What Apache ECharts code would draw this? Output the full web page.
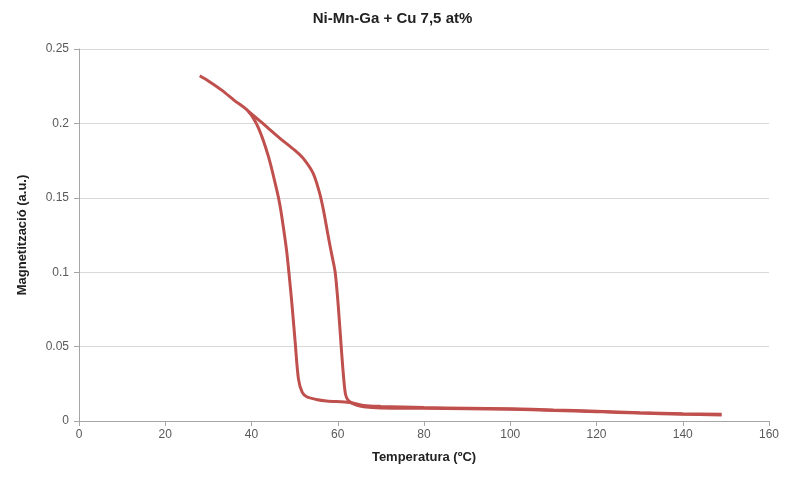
<!DOCTYPE html>
<html><head><meta charset="utf-8">
<script src="https://cdn.jsdelivr.net/npm/echarts@6/dist/echarts.min.js"></script>
<style>html,body{margin:0;padding:0;background:#fff}#c{width:785px;height:484px}</style>
</head><body><div id="c"></div>
<script>
const title = "Ni-Mn-Ga + Cu 7,5 at%";
const xName = "Temperatura (ºC)";
const yName = "Magnetització (a.u.)";
const xTicks = [0, 20, 40, 60, 80, 100, 120, 140, 160];
const yTicks = [0, 0.05, 0.1, 0.15, 0.2, 0.25];

// Branch with the lower transition (~49 ºC)
const tempA = [28, 30, 33, 36, 39.3, 41.6, 43.9, 45.8, 46.6, 47.4, 48.2, 49.3, 50.1, 50.9, 51.8, 52.8, 55, 57.4, 62.8, 66, 70, 80, 90, 100, 110, 120, 130, 140, 149];
const magA  = [0.232, 0.2285, 0.2225, 0.2155, 0.208, 0.197, 0.178, 0.156, 0.145, 0.130, 0.113, 0.081, 0.054, 0.028, 0.019, 0.0163, 0.0145, 0.0135, 0.0125, 0.0105, 0.0098, 0.009, 0.0086, 0.0082, 0.0074, 0.0066, 0.0056, 0.0049, 0.0045];
// Branch with the higher transition (~60 ºC)
const tempB = [39.3, 42, 46.6, 50, 52, 54.3, 55.9, 56.8, 57.8, 58.6, 59.4, 60.1, 60.9, 61.4, 61.8, 62.4, 64, 66, 70, 80, 90, 100, 110, 120, 130, 140, 149];
const magB  = [0.208, 0.2015, 0.190, 0.182, 0.1765, 0.1664, 0.152, 0.140, 0.124, 0.112, 0.100, 0.078, 0.046, 0.028, 0.018, 0.014, 0.011, 0.0096, 0.0088, 0.0085, 0.0083, 0.0079, 0.0071, 0.0063, 0.0053, 0.0046, 0.0041];

const chart = echarts.init(document.getElementById('c'), null, {renderer: 'canvas'});
const font = "'Liberation Sans', 'Open Sans', sans-serif";
const lineColor = '#c0504d';
chart.setOption({
  animation: false,
  backgroundColor: '#fff',
  title: {text: title, left: 'center', top: 6, textStyle: {fontFamily: font, fontSize: 15, fontWeight: 'bold', color: '#222'}},
  grid: {left: 79, right: 16, top: 49, bottom: 63},
  xAxis: {
    type: 'value', min: xTicks[0], max: xTicks[xTicks.length-1], interval: 20,
    name: xName, nameLocation: 'middle', nameGap: 30,
    nameTextStyle: {fontFamily: font, fontSize: 13, fontWeight: 'bold', color: '#222'},
    axisLine: {show: true, lineStyle: {color: '#a6a6a6'}},
    axisTick: {show: true, length: 5, lineStyle: {color: '#a6a6a6'}},
    axisLabel: {fontFamily: font, fontSize: 12, color: '#595959', margin: 8},
    splitLine: {show: false}
  },
  yAxis: {
    type: 'value', min: yTicks[0], max: yTicks[yTicks.length-1], interval: 0.05,
    name: yName, nameLocation: 'middle', nameGap: 50,
    nameTextStyle: {fontFamily: font, fontSize: 13, fontWeight: 'bold', color: '#222'},
    axisLine: {show: true, lineStyle: {color: '#a6a6a6'}},
    axisTick: {show: true, length: 5, lineStyle: {color: '#a6a6a6'}},
    axisLabel: {fontFamily: font, fontSize: 12, color: '#595959', margin: 10},
    splitLine: {show: true, lineStyle: {color: '#d9d9d9', width: 1}}
  },
  series: [
    {type: 'line', data: tempA.map((t, i) => [t, magA[i]]), showSymbol: false, smooth: 0.3,
     lineStyle: {color: lineColor, width: 3}, itemStyle: {color: lineColor}},
    {type: 'line', data: tempB.map((t, i) => [t, magB[i]]), showSymbol: false, smooth: 0.3,
     lineStyle: {color: lineColor, width: 3}, itemStyle: {color: lineColor}}
  ]
});
</script></body></html>
